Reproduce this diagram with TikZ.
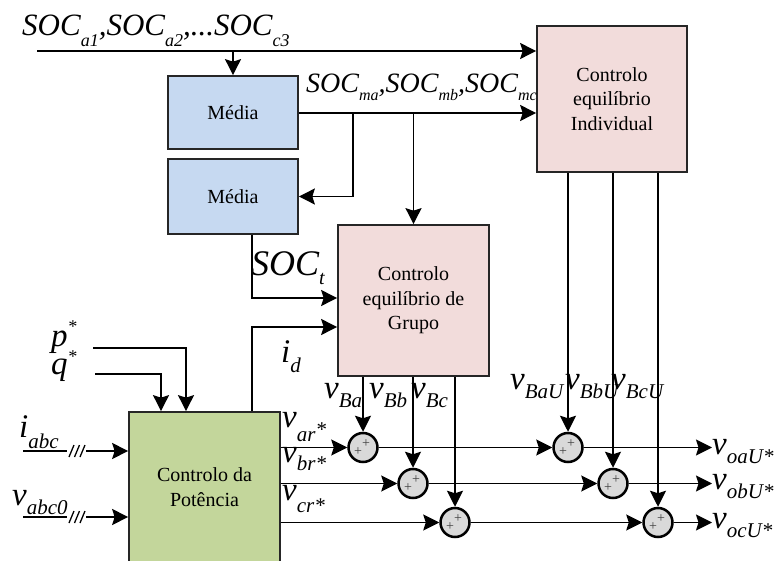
\documentclass[tikz,border=0pt]{standalone}
\usepackage{fontspec}
\setmainfont{Liberation Serif}
\usetikzlibrary{arrows.meta,calc}

\definecolor{mediafill}{HTML}{C6D9F1}
\definecolor{ctrlfill}{HTML}{F2DCDB}
\definecolor{potfill}{HTML}{C3D69B}
\definecolor{sumfill}{HTML}{D9D9D9}

% signal name: main symbol, subscript, main size, subscript size, drop
\newcommand\sg[5]{{\fontsize{#3}{#3}\selectfont\itshape #1}{\fontsize{#4}{#4}\selectfont\itshape\raisebox{-#5pt}{#2}}}
\newcommand\vs[1]{\sg{v}{#1}{33}{21}{9}}

\tikzset{
  block/.style={draw=black!85, line width=1.7pt, align=center,
    font=\fontsize{20}{24.5}\selectfont, inner sep=0pt},
  sumnode/.style={circle, draw=black, line width=2.5pt, fill=sumfill,
    minimum size=29pt, inner sep=0pt},
  sig/.style={inner sep=0pt, anchor=base west},
  wire/.style={line width=1.5pt},
  arr/.style={wire, -{Stealth[length=16pt,width=16pt,inset=2.5pt]}},
  plus/.style={font=\fontsize{14}{14}\selectfont, text=black!75, inner sep=0pt}
}

\begin{document}
\begin{tikzpicture}[x=1pt,y=-1pt]
\useasboundingbox (0,0) rectangle (781,561);
\clip (0,0) rectangle (781,561);

% blocks
\node[block, fill=mediafill, minimum width=130pt, minimum height=73pt] (m1) at (233,112.5) {Média};
\node[block, fill=mediafill, minimum width=130pt, minimum height=75pt] (m2) at (233,196.5) {Média};
\node[block, fill=ctrlfill, minimum width=150pt, minimum height=146pt] (ind) at (612,99) {Controlo\\equilíbrio\\Individual};
\node[block, fill=ctrlfill, minimum width=151pt, minimum height=151pt] (grp) at (413.5,300.5) {Controlo\\equilíbrio de\\Grupo};
\node[block, fill=potfill, minimum width=151pt, minimum height=170pt] (pot) at (204.5,497) {};
\node[align=center, font=\fontsize{20}{24.5}\selectfont] (pottxt) at (204.5,487) {Controlo da\\Potência};

% summing junctions
\node[sumnode] (s1) at (363,447.5) {};
\node[sumnode] (s2) at (413,483.5) {};
\node[sumnode] (s3) at (455,522.5) {};
\node[sumnode] (s4) at (568,447.5) {};
\node[sumnode] (s5) at (613,483.5) {};
\node[sumnode] (s6) at (658,522.5) {};
\foreach \s in {s1,s2,s3,s4,s5,s6}{
  \node[plus] at ($(\s)+(3,-4)$) {+};
  \node[plus] at ($(\s)+(-5,4)$) {+};
}

% free ends and bends of the wires
\coordinate (socin) at (37,51);
\coordinate (j1) at (353,113);
\coordinate (tx) at (252,0);
\coordinate (kt) at (252,298);
\coordinate (kd) at (252,327);
\coordinate (px) at (186,0);
\coordinate (qx) at (161,0);
\coordinate (pin) at (93,348);
\coordinate (qin) at (95,374);
\coordinate (iin) at (23,451);
\coordinate (vin) at (23,517);
\coordinate (ie) at (67,451);
\coordinate (is) at (86,451);
\coordinate (ve) at (67,517);
\coordinate (vs) at (86,517);
\coordinate (oa) at (712,447.5);
\coordinate (ob) at (712,483.5);
\coordinate (oc) at (712,522.5);

% SOC distribution
\draw[arr] (socin) -- (socin -| ind.west);
\draw[arr] (socin -| m1.north) -- (m1.north);
\draw[arr] (m1.east |- j1) -- (j1 -| ind.west);
\draw[arr] (j1) |- (m2.east);
\draw[arr] (j1 -| grp.north) -- (grp.north);
\draw[arr] (m2.south -| tx) -- (kt) -- (kt -| grp.west);
\draw[arr] (pot.north -| tx) -- (kd) -- (kd -| grp.west);

% power references
\draw[arr] (pin) -| (pot.north -| px);
\draw[arr] (qin) -| (pot.north -| qx);

% three-phase measurements
\draw[wire, line width=2pt] (iin) -- (ie);
\draw[arr, line width=2pt] (is) -- (iin -| pot.west);
\draw[wire, line width=2pt] (vin) -- (ve);
\draw[arr, line width=2pt] (vs) -- (vin -| pot.west);
\foreach \y in {451,517}{
  \foreach \x in {69,74.5,80}{
    \draw[line width=1.3pt] (\x,\y+6) -- (\x+5,\y-6);
  }
}

% group balancing outputs
\draw[arr] (grp.south -| s1.north) -- (s1.north);
\draw[arr] (grp.south -| s2.north) -- (s2.north);
\draw[arr] (grp.south -| s3.north) -- (s3.north);
% individual balancing outputs
\draw[arr] (ind.south -| s4.north) -- (s4.north);
\draw[arr] (ind.south -| s5.north) -- (s5.north);
\draw[arr] (ind.south -| s6.north) -- (s6.north);

% phase references through both summing stages
\draw[arr] (s1.west -| pot.east) -- (s1.west);
\draw[arr] (s2.west -| pot.east) -- (s2.west);
\draw[arr] (s3.west -| pot.east) -- (s3.west);
\draw[arr] (s1.east) -- (s4.west);
\draw[arr] (s2.east) -- (s5.west);
\draw[arr] (s3.east) -- (s6.west);
\draw[arr] (s4.east) -- (oa);
\draw[arr] (s5.east) -- (ob);
\draw[arr] (s6.east) -- (oc);

% labels
\node[sig] (lsoc) at (22,36) {\sg{SOC}{a\rmfamily1}{31}{18}{11}{\fontsize{31}{31}\selectfont\itshape ,}\sg{SOC}{a\rmfamily2}{31}{18}{11}{\fontsize{31}{31}\selectfont\itshape ,...}\sg{SOC}{c\rmfamily3}{31}{18}{11}};
\node[sig] (lsocm) at (306,93) {\sg{SOC}{ma}{28}{16}{8}{\fontsize{28}{28}\selectfont\itshape ,}\sg{SOC}{mb}{28}{16}{8}{\fontsize{28}{28}\selectfont\itshape ,}\sg{SOC}{mc}{28}{16}{8}};
\node[sig] (lsoct) at (251,276) {\sg{SOC}{t}{36}{20}{9}};
\node[sig] (lid) at (281,362) {\sg{i}{d}{33}{21}{10}};
\node[sig] (lp) at (51,346) {\fontsize{33}{33}\selectfont\itshape p\raisebox{14pt}{\fontsize{18}{18}\selectfont *}};
\node[sig] (lq) at (51,374) {\fontsize{33}{33}\selectfont\itshape q\raisebox{12pt}{\fontsize{18}{18}\selectfont *}};
\node[sig] (liabc) at (19,437) {\sg{i}{abc}{33}{21}{11}};
\node[sig] (lvabc) at (12,505) {\vs{abc\rmfamily 0}};

\node[sig] (lvar) at (282,427) {\sg{v}{ar\raisebox{5pt}{*}}{33}{21}{14}};
\node[sig] (lvbr) at (282,462) {\sg{v}{br*}{33}{21}{8}};
\node[sig] (lvcr) at (282,500) {\sg{v}{cr*}{33}{21}{12}};

\node[sig] (lvba) at (324,398) {\vs{Ba}};
\node[sig] (lvbb) at (369,398) {\vs{Bb}};
\node[sig] (lvbc) at (411,398) {\vs{Bc}};
\node[sig] (lvbau) at (510,389) {\vs{BaU}};
\node[sig] (lvbbu) at (565,389) {\vs{BbU}};
\node[sig] (lvbcu) at (611,389) {\vs{BcU}};

\node[sig] (lvoa) at (712,454) {\vs{oaU*}};
\node[sig] (lvob) at (712,489) {\vs{obU*}};
\node[sig] (lvoc) at (712,528) {\vs{ocU*}};
\end{tikzpicture}
\end{document}
